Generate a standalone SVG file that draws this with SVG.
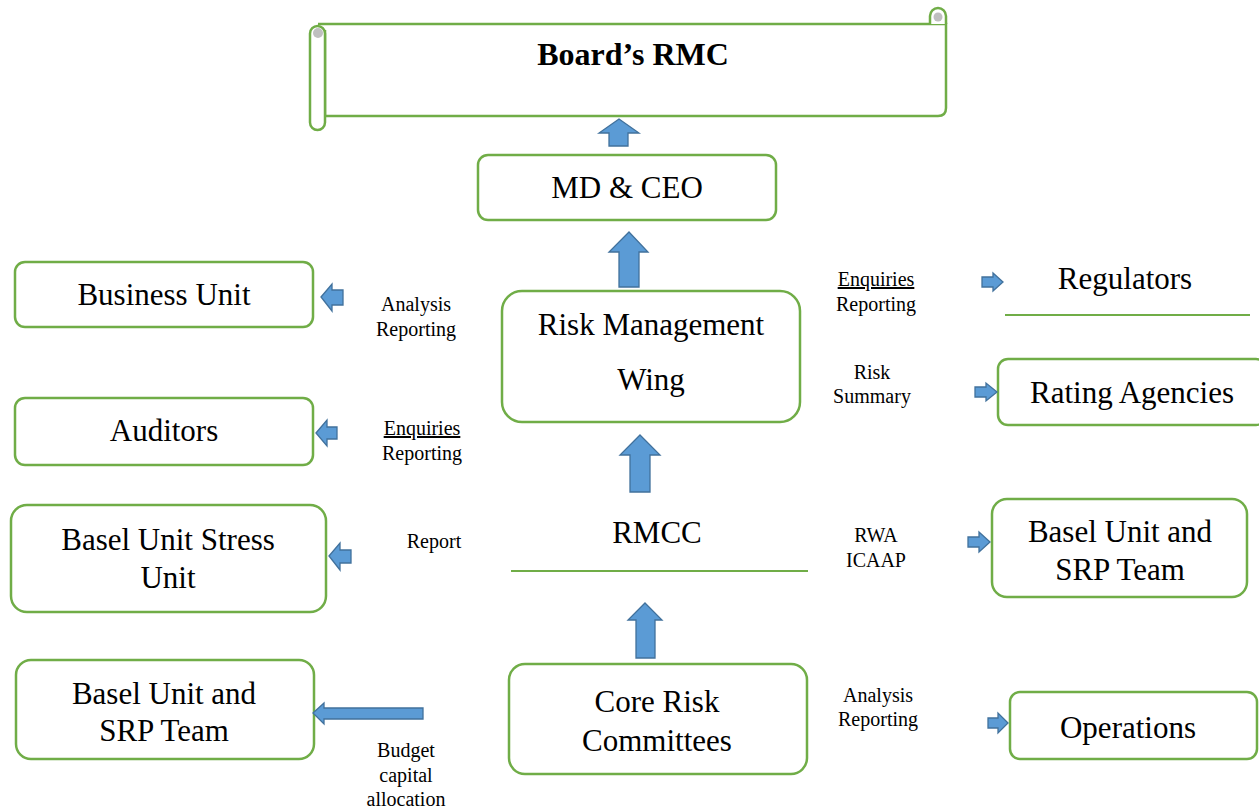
<svg xmlns="http://www.w3.org/2000/svg" width="1259" height="808" viewBox="0 0 1259 808">
<defs>
<style>
.box{fill:#fff;stroke:#70AD47;stroke-width:2.5}
.ln{stroke:#70AD47;stroke-width:2;fill:none}
.big{font-family:"Liberation Serif","Times New Roman",serif;font-size:31px;fill:#000;text-anchor:middle}
.sm{font-family:"Liberation Serif","Times New Roman",serif;font-size:20px;fill:#000;text-anchor:middle}
.arr{fill:#5B9BD5;stroke:#41719C;stroke-width:1.3}
</style>
</defs>
<rect width="1259" height="808" fill="#fff"/>
<g id="boards-rmc">
<path class="box" d="M318 24 L938 24 L946 24 L946 108 Q946 116 938 116 L325 116 L325 30"/>
<path class="box" d="M930 24 L930 16 A8 8 0 0 1 946 16 L946 24"/>
<circle cx="938" cy="17" r="4.5" fill="#BFBFBF"/>
<rect class="box" x="310" y="26" width="15" height="104" rx="7.5"/>
<circle cx="318" cy="33" r="5" fill="#BFBFBF"/>
<text x="633" y="65" class="big" style="font-weight:bold;font-size:32px">Board’s RMC</text>
</g>
<g id="md-ceo"><rect class="box" x="478" y="155" width="298" height="65" rx="10"/><text class="big" x="627" y="198">MD &amp; CEO</text></g>
<g id="business-unit"><rect class="box" x="15" y="262" width="298" height="65" rx="10"/><text class="big" x="164" y="305">Business Unit</text></g>
<g id="auditors"><rect class="box" x="15" y="398" width="298" height="67" rx="10"/><text class="big" x="164" y="441">Auditors</text></g>
<g id="basel-stress"><rect class="box" x="11" y="505" width="315" height="107" rx="16"/><text class="big" x="168" y="550">Basel Unit Stress</text><text class="big" x="168" y="588">Unit</text></g>
<g id="basel-left"><rect class="box" x="16" y="660" width="298" height="99" rx="15"/><text class="big" x="164" y="704">Basel Unit and</text><text class="big" x="164" y="741">SRP Team</text></g>
<g id="rmw"><rect class="box" x="502" y="291" width="298" height="131" rx="20"/><text class="big" x="651" y="335">Risk Management</text><text class="big" x="651" y="390">Wing</text></g>
<g id="rmcc"><text class="big" x="657" y="543">RMCC</text><line class="ln" x1="511" y1="571" x2="808" y2="571"/></g>
<g id="core-risk"><rect class="box" x="509" y="664" width="298" height="110" rx="16"/><text class="big" x="657" y="712">Core Risk</text><text class="big" x="657" y="751">Committees</text></g>
<g id="regulators"><text class="big" x="1125" y="289">Regulators</text><line class="ln" x1="1005" y1="315" x2="1250" y2="315"/></g>
<g id="rating"><rect class="box" x="998" y="359" width="268" height="66" rx="10"/><text class="big" x="1132" y="403">Rating Agencies</text></g>
<g id="basel-right"><rect class="box" x="992" y="499" width="255" height="98" rx="15"/><text class="big" x="1120" y="542">Basel Unit and</text><text class="big" x="1120" y="580">SRP Team</text></g>
<g id="operations"><rect class="box" x="1010" y="692" width="247" height="67" rx="10"/><text class="big" x="1128" y="738">Operations</text></g>
<g id="labels">
<text class="sm" x="416" y="311">Analysis</text><text class="sm" x="416" y="336">Reporting</text>
<text class="sm" x="422" y="435" text-decoration="underline">Enquiries</text><text class="sm" x="422" y="460">Reporting</text>
<text class="sm" x="434" y="548">Report</text>
<text class="sm" x="406" y="757">Budget</text><text class="sm" x="406" y="782">capital</text><text class="sm" x="406" y="806">allocation</text>
<text class="sm" x="876" y="286" text-decoration="underline">Enquiries</text><text class="sm" x="876" y="311">Reporting</text>
<text class="sm" x="872" y="379">Risk</text><text class="sm" x="872" y="403">Summary</text>
<text class="sm" x="876" y="542">RWA</text><text class="sm" x="876" y="567">ICAAP</text>
<text class="sm" x="878" y="702">Analysis</text><text class="sm" x="878" y="726">Reporting</text>
</g>
<g id="connectors">
<path class="arr" d="M619 119 L639 133 L628 133 L628 146 L609 146 L609 133 L599 133 Z"/>
<path class="arr" d="M629 232 L648 252 L639 252 L639 287 L619 287 L619 252 L609 252 Z"/>
<path class="arr" d="M640 435 L660 455 L650 455 L650 492 L630 492 L630 455 L620 455 Z"/>
<path class="arr" d="M645 603 L662 620 L655 620 L655 658 L636 658 L636 620 L628 620 Z"/>
<path class="arr" d="M321 297 L332 284 L332 290 L343 290 L343 305 L332 305 L332 311 Z"/>
<path class="arr" d="M316 433 L327 420 L327 427 L337 427 L337 439 L327 439 L327 446 Z"/>
<path class="arr" d="M329 556 L340 543 L340 550 L351 550 L351 563 L340 563 L340 570 Z"/>
<path class="arr" d="M313 713 L324 703 L324 708 L423 708 L423 719 L324 719 L324 724 Z"/>
<path class="arr" d="M1003 282 L993 273 L993 277 L982 277 L982 287 L993 287 L993 291 Z"/>
<path class="arr" d="M997 392 L986 383 L986 387 L975 387 L975 397 L986 397 L986 401 Z"/>
<path class="arr" d="M990 542 L979 532 L979 537 L968 537 L968 547 L979 547 L979 552 Z"/>
<path class="arr" d="M1008 723 L998 713 L998 718 L988 718 L988 728 L998 728 L998 733 Z"/>
</g>
</svg>
